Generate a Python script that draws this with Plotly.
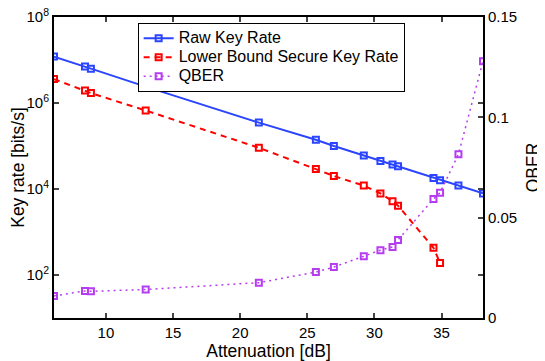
import plotly.graph_objects as go

# ---- data ----
attenuation_db = [6.13, 8.44, 8.88, 12.96, 21.39, 25.64, 26.98, 29.21, 30.45,
                  31.35, 31.76, 34.40, 34.89, 36.26, 38.09]
raw_key_rate = [1.2e7, 7.1e6, 6.3e6, 2.4e6, 3.5e5, 1.4e5, 1.0e5, 6.0e4, 4.5e4,
                3.7e4, 3.4e4, 1.8e4, 1.6e4, 1.2e4, 7.9e3]
attenuation_secure_db = [6.13, 8.44, 8.88, 12.96, 21.39, 25.64, 26.98, 29.21,
                         30.45, 31.35, 31.76, 34.40, 34.89]
secure_key_rate = [3.6e6, 1.95e6, 1.7e6, 6.7e5, 9.1e4, 2.9e4, 2.0e4, 1.2e4,
                   7.9e3, 5.2e3, 4.1e3, 4.3e2, 1.9e2]
qber = [0.0110, 0.0135, 0.0133, 0.0142, 0.0176, 0.0229, 0.0254, 0.0308, 0.0338,
        0.0354, 0.0389, 0.0593, 0.0624, 0.0816, 0.128]

series_names = ["Raw Key Rate", "Lower Bound Secure Key Rate", "QBER"]
x_ticks = [10, 15, 20, 25, 30, 35]
y_ticks = [1e2, 1e4, 1e6, 1e8]
y_tick_text = ["10<sup>2</sup>", "10<sup>4</sup>", "10<sup>6</sup>", "10<sup>8</sup>"]
y2_ticks = [0, 0.05, 0.1, 0.15]
y2_tick_text = ["0", "0.05", "0.1", "0.15"]

BLUE = "#2b45ff"
RED = "#ff0000"
PURPLE = "#b63cf2"
FONT = "Liberation Sans, Arial, sans-serif"


def legend_label(name):
    return '<span style="font-size:16px">' + name + "</span>"


fig = go.Figure()
fig.add_trace(go.Scatter(
    x=attenuation_db, y=raw_key_rate, name=legend_label(series_names[0]),
    mode="lines+markers",
    line=dict(color=BLUE, width=2),
    marker=dict(symbol="square-open", size=6, color=BLUE, line=dict(width=2, color=BLUE)),
))
fig.add_trace(go.Scatter(
    x=attenuation_secure_db, y=secure_key_rate, name=legend_label(series_names[1]),
    mode="lines+markers",
    line=dict(color=RED, width=2, dash="6px,5px"),
    marker=dict(symbol="square-open", size=6, color=RED, line=dict(width=2, color=RED)),
))
fig.add_trace(go.Scatter(
    x=attenuation_db, y=qber, name=legend_label(series_names[2]),
    mode="lines+markers", yaxis="y2",
    line=dict(color=PURPLE, width=1.5, dash="2px,4px"),
    marker=dict(symbol="square-open", size=6, color=PURPLE, line=dict(width=2, color=PURPLE)),
))

axis_common = dict(
    ticks="inside", ticklen=5, tickwidth=1.5, showline=True, linecolor="black",
    linewidth=2, showgrid=False, zeroline=False, automargin=False,
    ticklabeloverflow="allow",
)

# The page body has an 8px default margin, so the figure is sized to fit the
# 545x361 window once that offset is included.
fig.update_layout(
    width=537, height=353,
    margin=dict(l=46, r=62, t=9, b=43),
    paper_bgcolor="white", plot_bgcolor="white",
    font=dict(family=FONT, size=15, color="black"),
    showlegend=True,
    legend=dict(
        x=0.195, y=0.981, xanchor="left", yanchor="top",
        bgcolor="white", bordercolor="black", borderwidth=1,
        font=dict(size=12), tracegroupgap=0, itemwidth=30,
    ),
    xaxis=dict(
        range=[6.13, 38.09], tickvals=x_ticks, mirror="ticks",
        title=dict(text="Attenuation [dB]", font=dict(size=17.5), standoff=0),
        **axis_common,
    ),
    yaxis=dict(
        type="log", range=[1, 8], tickvals=y_ticks, ticktext=y_tick_text,
        mirror="ticks",
        title=dict(text="Key rate [bits/s]", font=dict(size=17.5), standoff=14),
        **axis_common,
    ),
    yaxis2=dict(
        overlaying="y", side="right", range=[0, 0.15], tickvals=y2_ticks,
        ticktext=y2_tick_text,
        title=dict(text="QBER", font=dict(size=17.5), standoff=11),
        **axis_common,
    ),
)

fig.write_html("out.html")
